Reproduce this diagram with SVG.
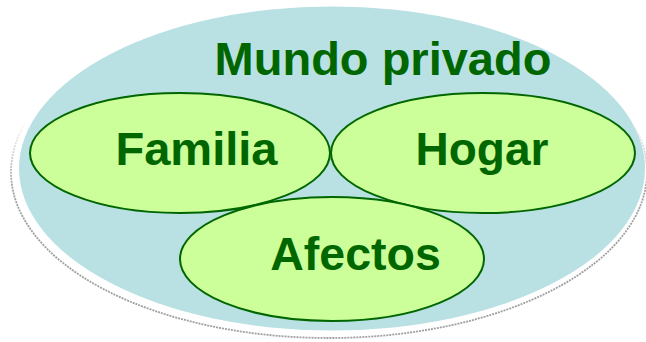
<svg xmlns="http://www.w3.org/2000/svg" width="646" height="342" viewBox="0 0 646 342">
<style>
.lbl{font-family:"Liberation Sans",Arial,sans-serif;font-weight:bold;fill:#006600;text-anchor:middle}
.inner{fill:#ccff99;stroke:#006600;stroke-width:2}
</style>
<defs>
<linearGradient id="shade" x1="0" y1="0" x2="0" y2="1">
<stop offset="0" stop-color="#a0a0a0" stop-opacity="0"/>
<stop offset="0.35" stop-color="#a0a0a0" stop-opacity="0"/>
<stop offset="0.55" stop-color="#a0a0a0" stop-opacity="1"/>
<stop offset="1" stop-color="#a0a0a0" stop-opacity="1"/>
</linearGradient>
</defs>
<rect width="646" height="342" fill="#ffffff"/>
<g id="outer">
<ellipse cx="329" cy="172" rx="318" ry="166" fill="none" stroke="url(#shade)" stroke-width="1.8" stroke-dasharray="2 1"/>
<ellipse cx="332" cy="168.5" rx="313" ry="162" fill="#b9e0e3"/>
<text class="lbl" x="383" y="75" font-size="47">Mundo privado</text>
</g>
<g id="familia">
<ellipse class="inner" cx="180" cy="153" rx="150" ry="60"/>
<text class="lbl" x="196.5" y="165" font-size="47">Familia</text>
</g>
<g id="hogar">
<ellipse class="inner" cx="483" cy="153" rx="152" ry="60"/>
<text class="lbl" x="482" y="165" font-size="46">Hogar</text>
</g>
<g id="afectos">
<ellipse class="inner" cx="332" cy="259" rx="152" ry="62"/>
<text class="lbl" x="355.5" y="270" font-size="46.5">Afectos</text>
</g>
<g id="connectors"></g>
</svg>
